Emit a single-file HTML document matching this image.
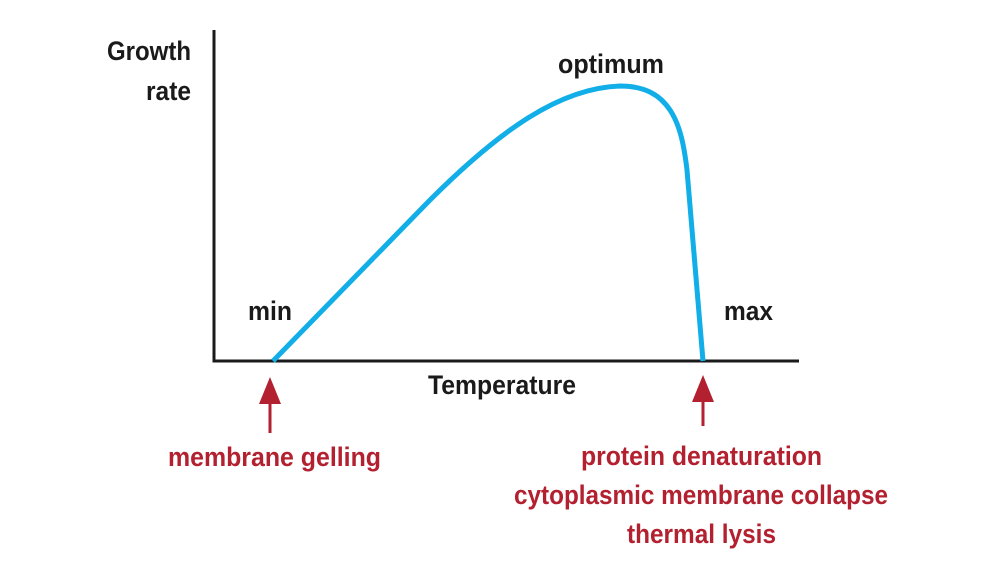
<!DOCTYPE html>
<html><head><meta charset="utf-8"><style>
html,body{margin:0;padding:0;background:#fff;}
svg{display:block}
text{font-family:"Liberation Sans",sans-serif;font-size:27px;font-weight:bold;}
</style></head><body>
<svg width="1000" height="563" viewBox="0 0 1000 563">
<line x1="214" y1="30" x2="214" y2="362" stroke="#1a1a1a" stroke-width="3"/>
<line x1="212.5" y1="361" x2="799" y2="361" stroke="#1a1a1a" stroke-width="3"/>
<path d="M273 361 L430 200 C500 130 560 88 620 86 C645 86 660 95 670 110 C680 125 684 145 687 170 L703 361" fill="none" stroke="#12aee8" stroke-width="5"/>
<g fill="#1a1a1a">
<text x="107" y="60" textLength="84" lengthAdjust="spacingAndGlyphs">Growth</text>
<text x="146" y="100" textLength="45" lengthAdjust="spacingAndGlyphs">rate</text>
<text x="558" y="73" textLength="106" lengthAdjust="spacingAndGlyphs">optimum</text>
<text x="248" y="320" textLength="44" lengthAdjust="spacingAndGlyphs">min</text>
<text x="724" y="320" textLength="49" lengthAdjust="spacingAndGlyphs">max</text>
<text x="428" y="394" textLength="148" lengthAdjust="spacingAndGlyphs">Temperature</text>
</g>
<g fill="#b3202f">
<line x1="270" y1="392" x2="270" y2="433" stroke="#b3202f" stroke-width="3"/>
<polygon points="270,377 259,404 281,404"/>
<line x1="703" y1="392" x2="703" y2="426" stroke="#b3202f" stroke-width="3"/>
<polygon points="703,375 692,402 714,402"/>
<text x="168" y="466" textLength="213" lengthAdjust="spacingAndGlyphs">membrane gelling</text>
<text x="581" y="465" textLength="241" lengthAdjust="spacingAndGlyphs">protein denaturation</text>
<text x="514" y="504" textLength="374" lengthAdjust="spacingAndGlyphs">cytoplasmic membrane collapse</text>
<text x="627" y="543" textLength="149" lengthAdjust="spacingAndGlyphs">thermal lysis</text>
</g>
</svg>
</body></html>
